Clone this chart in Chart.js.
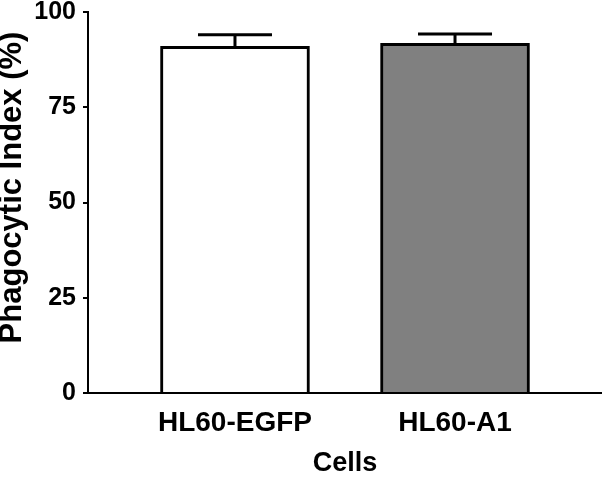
<!DOCTYPE html>
<html><head><meta charset="utf-8">
<script src="https://cdn.jsdelivr.net/npm/chart.js@4.4.1/dist/chart.umd.min.js"></script>
<style>html,body{margin:0;padding:0;background:#fff}#wrap{width:602px;height:486px;position:relative}</style>
</head><body><div id="wrap"><canvas id="c"></canvas></div>
<script>
const categories = ["HL60-EGFP", "HL60-A1"];
const means = [91.0, 91.8];
const errors = [3.0, 2.4];
const fills = ["#ffffff", "#808080"];
const yTicks = [0, 25, 50, 75, 100];
const xTitle = "Cells";
const yTitle = "Phagocytic Index (%)";

const FAM = "'Liberation Sans', Arial, Helvetica, sans-serif";

const errorBars = {
  id: 'errorBars',
  afterDatasetsDraw(chart) {
    const ctx = chart.ctx;
    const meta = chart.getDatasetMeta(0);
    const ys = chart.scales.y;
    ctx.save();
    ctx.strokeStyle = '#000';
    ctx.lineWidth = 3;
    meta.data.forEach((bar, i) => {
      const yTop = ys.getPixelForValue(means[i] + errors[i]);
      const yBar = ys.getPixelForValue(means[i]);
      const half = 37;
      ctx.beginPath();
      ctx.moveTo(bar.x, yBar);
      ctx.lineTo(bar.x, yTop);
      ctx.moveTo(bar.x - half, yTop);
      ctx.lineTo(bar.x + half, yTop);
      ctx.stroke();
    });
    ctx.restore();
  }
};

const yAxisTitle = {
  id: 'yAxisTitle',
  afterDraw(chart) {
    const ctx = chart.ctx;
    const ys = chart.scales.y;
    const cy = (ys.top + ys.bottom) / 2 - 15;
    ctx.save();
    ctx.translate(12, cy);
    ctx.rotate(-Math.PI / 2);
    ctx.font = "bold 31px " + FAM;
    ctx.fillStyle = '#000';
    ctx.textAlign = 'center';
    ctx.textBaseline = 'middle';
    ctx.fillText(yTitle, 0, 0);
    ctx.restore();
  }
};

new Chart(document.getElementById('c'), {
  type: 'bar',
  data: {
    datasets: [{
      data: categories.map((c, i) => ({x: i, y: means[i]})),
      backgroundColor: fills,
      borderColor: '#000',
      borderWidth: 3,
      borderSkipped: 'bottom',
      barThickness: 149
    }]
  },
  options: {
    responsive: true,
    maintainAspectRatio: false,
    animation: false,
    layout: {padding: {top: 12, left: 0, right: 0, bottom: 0}},
    plugins: {legend: {display: false}, tooltip: {enabled: false}},
    scales: {
      x: {
        type: 'linear',
        offset: false,
        min: -0.668,
        max: 1.668,
        afterBuildTicks: s => { s.ticks = categories.map((c, i) => ({value: i})); },
        afterFit: s => { s.height = 93; s.paddingLeft = 0; s.paddingRight = 0; },
        grid: {display: false, drawTicks: false, offset: false},
        border: {display: true, color: '#000', width: 2},
        ticks: {
          color: '#000',
          padding: 13,
          font: {family: FAM, size: 28, weight: 'bold'},
          callback: v => categories[Math.round(v)],
          maxRotation: 0,
          autoSkip: false
        },
        title: {
          display: true, text: xTitle, color: '#000',
          font: {family: FAM, size: 27, weight: 'bold', lineHeight: 1.2},
          padding: {top: 0, bottom: 6}
        }
      },
      y: {
        min: 0, max: 100,
        afterBuildTicks: s => { s.ticks = yTicks.map(v => ({value: v})); },
        afterFit: s => { s.width = 88; s.paddingTop = 0; s.paddingBottom = 0; },
        grid: {display: true, drawOnChartArea: false, drawTicks: true, tickLength: 5, color: '#000', lineWidth: 2},
        border: {display: true, color: '#000', width: 2},
        ticks: {
          color: '#000',
          padding: 7,
          font: {family: FAM, size: 25, weight: 'bold', lineHeight: 1},
        },
        title: {display: false}
      }
    }
  },
  plugins: [errorBars, yAxisTitle]
});
</script>
</body></html>
